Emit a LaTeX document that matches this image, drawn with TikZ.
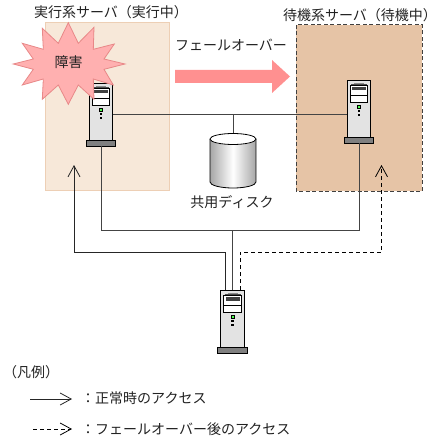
\documentclass[tikz,border=0pt]{standalone}
\usepackage{fontspec}
\setmainfont{Noto Sans CJK JP}
\usetikzlibrary{arrows.meta}
\definecolor{txt}{HTML}{222222}
\definecolor{ln}{HTML}{444444}
\definecolor{leftfill}{HTML}{F7E8D9}
\definecolor{leftedge}{HTML}{EDCFB5}
\definecolor{rightfill}{HTML}{E6C4A6}
\definecolor{pinkarrow}{HTML}{FF9090}
\definecolor{starfill}{HTML}{FFB0B0}
\definecolor{staredge}{HTML}{E88888}
\tikzset{
  x=1pt,y=-1pt,
  every node/.style={font=\fontsize{14}{14}\selectfont,text=txt,inner sep=0pt},
  conn/.style={draw=ln,line width=1pt},
  dashconn/.style={draw=black,line width=1pt,dash pattern=on 4pt off 3pt},
  barb/.style={-{Straight Barb[length=11pt,width=12pt,line width=.8pt]}},
  server/.pic={
    \draw[black,fill=black!11,line width=.8pt] (-11.7,0) rectangle (11.7,57);
    \draw[black!45,line width=.8pt] (-5,3) -- (5,3);
    \draw[black!70,line width=.7pt] (-8,4.5) -- (8,4.5);
    \draw[black,fill=white,line width=.7pt] (-8.7,5.7) rectangle (8.7,22);
    \fill[black!75] (-7,6.7) rectangle (7,10.5);
    \draw[black,line width=.7pt] (-8.7,15) -- (8.7,15);
    \draw[black,fill=green!70!white,line width=.6pt] (-1.4,25.3) rectangle (1.4,28.1);
    \fill[black] (-1.2,29.8) rectangle (1.2,32);
    \fill[black] (-1.2,33.8) rectangle (1.2,36);
    \draw[black,fill=black!50,line width=.8pt] (-14.7,57) rectangle (14.7,63);
    \coordinate (-foot) at (0,63);
    \coordinate (-topl) at (-7,0);
    \coordinate (-topr) at (7.5,0);
    \coordinate (-right) at (11.7,31);
    \coordinate (-left) at (-11.7,34);
  }
}
\begin{document}
\begin{tikzpicture}
\useasboundingbox (0,0) rectangle (441,441);
\fill[white] (0,0) rectangle (441,441);
% panels
\draw[draw=leftedge,fill=leftfill,line width=1pt] (45,23) rectangle (169,190);
\draw[draw=black!75,fill=rightfill,line width=1pt,dash pattern=on 4pt off 2.5pt] (296,25) rectangle (422,191);
% labels
\node (lblA) at (111,12.5) {実行系サーバ（実行中）};
\node (lblB) at (360,15) {待機系サーバ（待機中）};
\node (lblF) at (231,44.5) {フェールオーバー};
% coordinates of free routes
\coordinate (jn) at (232.5,230);
\coordinate (arrowA) at (74,165);
\coordinate (arrowB) at (381.5,165);
\coordinate (busT) at (233,114);
% servers
\pic (sa) at (101,83) {server};
\pic (sb) at (359,80) {server};
\pic (sc) at (232.5,290) {server};
% connectors
\draw[conn] (sa-right) -- (sb-left);
\draw[conn] (sa-foot) |- (jn);
\draw[conn] (sb-foot) |- (jn);
\draw[conn] (jn) -- (jn |- sc-topl);
\draw[conn,barb,draw=black!85] (sc-topl) |- (74,252) -- (arrowA);
\draw[dashconn,barb] (sc-topr) |- (381.5,252) -- (arrowB);
% disk
\coordinate (diskT) at (233,133);
\draw[conn] (busT) -- (diskT);
\path[left color=black!35,right color=black!35,middle color=white] (210,139) -- (210,182) arc[x radius=23,y radius=6,start angle=180,end angle=0] -- (256,139) arc[x radius=23,y radius=6,start angle=0,end angle=180] -- cycle;
\draw[black,line width=.8pt] (210,139) -- (210,182) arc[x radius=23,y radius=6,start angle=180,end angle=0] -- (256,139);
\draw[black,line width=.8pt,fill=white] (210,139) arc[x radius=23,y radius=5.5,start angle=180,end angle=0] arc[x radius=23,y radius=5.5,start angle=0,end angle=-180];
\node (lblD) at (232,202.5) {共用ディスク};
% failover arrow
\fill[pinkarrow] (175,70) -- (272,70) -- (272,60) -- (290,76.5) -- (272,93) -- (272,83) -- (175,83) -- cycle;
% star
\draw[staredge,fill=starfill,line width=.8pt] (68.3,22.7) -- (78.3,43.3) -- (94,27.3) -- (93.3,49.3) -- (114.3,44) -- (104,59) -- (125,64) -- (104,69.3) -- (113.3,85) -- (93.3,79) -- (94,99.3) -- (78.3,85) -- (68.3,104.3) -- (58.3,85) -- (42.3,99.3) -- (43.3,79) -- (22.3,85) -- (33.3,69.3) -- (13.3,64) -- (33.3,59) -- (22.3,43.3) -- (43.3,49.3) -- (42.3,28.3) -- (58.3,43.3) -- cycle;
\node (lblS) at (68.5,62.5) {障害};
% legend
\node[anchor=west] (lblL) at (3,372) {（凡例）};
\coordinate (l1a) at (30,399);
\coordinate (l1b) at (72,399);
\coordinate (l2a) at (33,429);
\coordinate (l2b) at (72,429);
\draw[conn,barb,draw=black!85] (l1a) -- (l1b);
\draw[dashconn,barb] (l2a) -- (l2b);
\node[anchor=west] (lblN) at (81,398) {：正常時のアクセス};
\node[anchor=west] (lblO) at (81,429) {：フェールオーバー後のアクセス};
\end{tikzpicture}
\end{document}
